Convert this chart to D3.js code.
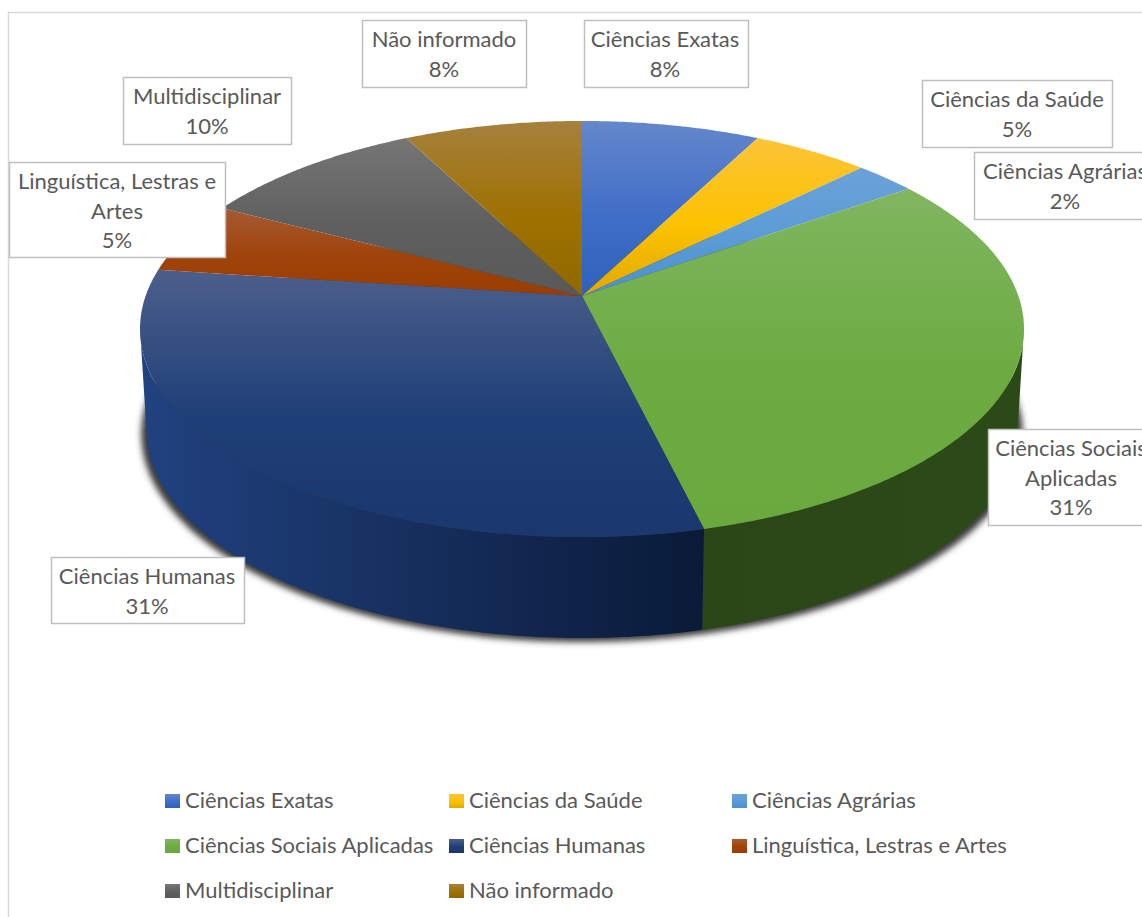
<!DOCTYPE html>
<html>
<head>
<meta charset="utf-8">
<script src="https://cdn.jsdelivr.net/npm/d3@7"></script>
<style>
  body { margin: 0; background: #fff; overflow: hidden; }
  text { font-family: Lato, "Open Sans", sans-serif; fill: #595959; }
</style>
</head>
<body>
<svg id="chart" width="1142" height="917"></svg>
<script>
// data
var categories = ["Ciências Exatas", "Ciências da Saúde", "Ciências Agrárias", "Ciências Sociais Aplicadas",
                  "Ciências Humanas", "Linguística, Lestras e Artes", "Multidisciplinar", "Não informado"];
var shares = [7.6, 5.0, 2.6, 31.0, 30.9, 5.6, 9.7, 7.6];
var percentLabels = ["8%", "5%", "2%", "31%", "31%", "5%", "10%", "8%"];
var labelLines = [["Ciências Exatas"], ["Ciências da Saúde"], ["Ciências Agrárias"], ["Ciências Sociais", "Aplicadas"],
                  ["Ciências Humanas"], ["Linguística, Lestras e", "Artes"], ["Multidisciplinar"], ["Não informado"]];

// colours: light top, middle, bottom of each top face
var lightColors = ["#6587cb", "#fcc438", "#6ba2d8", "#80b660", "#4c5f8b", "#a65a33", "#767676", "#a6813e"];
var midColors   = ["#3f6ec6", "#fcc200", "#5b9bd5", "#6cab41", "#1f3f78", "#a0430a", "#5f5f5f", "#9e7100"];
var darkColors  = ["#2e62bb", "#e0a800", "#4a90d0", "#69a93e", "#1a376e", "#983d03", "#595959", "#916800"];
var sideLeft    = ["#1d3566", "#7a5c00", "#2d4f70", "#2b4617", "#214280", "#4f2203", "#303030", "#4c3700"];
var sideRight   = ["#1d3566", "#7a5c00", "#2d4f70", "#2c4a18", "#0a1a38", "#4f2203", "#303030", "#4c3700"];

// label boxes [x0, y0, x1, y1] and legend layout
var labelBoxes = [[584, 20, 748, 87], [922, 80, 1112, 147], [974, 152, 1170, 219], [988, 429, 1170, 525],
                  [51, 557, 244, 623], [9, 162, 225, 257], [123, 77, 291, 144], [362, 20, 526, 87]];
var labelCenters = [665, 1017, 1065, 1071, 147, 117, 207, 444];
var legendCols = [165, 449, 732];
var legendRows = [794, 839, 884];

var svg = d3.select("#chart");
var defs = svg.append("defs");

defs.append("filter").attr("id", "pieShadow")
    .attr("x", "-5%").attr("y", "-5%").attr("width", "110%").attr("height", "110%")
  .append("feGaussianBlur").attr("stdDeviation", 3);

categories.forEach(function(c, i) {
    var g = defs.append("linearGradient").attr("id", "top" + i)
        .attr("x1", 0).attr("y1", 0).attr("x2", 0).attr("y2", 1);
    g.append("stop").attr("offset", "0%").attr("stop-color", lightColors[i]);
    g.append("stop").attr("offset", "55%").attr("stop-color", midColors[i]);
    g.append("stop").attr("offset", "100%").attr("stop-color", darkColors[i]);

    var s = defs.append("linearGradient").attr("id", "side" + i)
        .attr("x1", 0).attr("y1", 0).attr("x2", 1).attr("y2", 0);
    s.append("stop").attr("offset", "0%").attr("stop-color", sideLeft[i]);
    s.append("stop").attr("offset", "100%").attr("stop-color", sideRight[i]);
});

// chart frame, runs off the right and bottom of the picture
svg.append("rect")
    .attr("x", 8.5).attr("y", 12.5).attr("width", 1200).attr("height", 1000)
    .attr("fill", "#fff").attr("stroke", "#d9d9d9").attr("stroke-width", 1.5);

/* perspective view of the pie: near edge is drawn bigger than the far edge */
var k = 0.1586;
function project(angle, r, level) {
    var u = Math.sin(angle) * r, v = -Math.cos(angle) * r;
    var w = 1 - k * v;
    var A = level ? 430 : 436.4;
    var y0 = level ? 397 : 296;
    return [582 + A * u / w, y0 + 202.8 * v / w];
}

function arcPoints(a0, a1, level) {
    var n = Math.max(2, Math.ceil((a1 - a0) / 0.01));
    return d3.range(n + 1).map(function(j) {
        return project(a0 + (a1 - a0) * j / n, 1, level);
    });
}

var pie = d3.pie().sort(null).value(function(d) { return d; });
var slices = pie(shares);
var line = d3.line();

// only the part of the rim between the left and right silhouette shows
var frontStart = Math.acos(-k);
var frontEnd = 2 * Math.PI - frontStart;

// blurred shadow under the base
svg.append("path")
    .attr("d", line(arcPoints(0, 2 * Math.PI, 1)) + "Z")
    .attr("transform", "translate(582,401) scale(1.012,1) translate(-582,-397)")
    .attr("fill", "#3a3a3a")
    .attr("filter", "url(#pieShadow)");

svg.append("g").selectAll("path")
    .data(slices)
    .enter().append("path")
    .attr("d", function(d) {
        var a0 = Math.max(d.startAngle, frontStart);
        var a1 = Math.min(d.endAngle, frontEnd);
        if (a1 <= a0) return null;
        var top = arcPoints(a0, a1, 0);
        var bottom = arcPoints(a0, a1, 1).reverse();
        return line(top.concat(bottom)) + "Z";
    })
    .attr("fill", function(d, i) { return "url(#side" + i + ")"; });

svg.append("g").selectAll("path")
    .data(slices)
    .enter().append("path")
    .attr("d", function(d) {
        return line([project(0, 0, 0)].concat(arcPoints(d.startAngle, d.endAngle, 0))) + "Z";
    })
    .attr("fill", function(d, i) { return "url(#top" + i + ")"; });

// data labels
var labels = svg.append("g").selectAll("g")
    .data(categories)
    .enter().append("g");

labels.append("rect")
    .attr("x", function(d, i) { return labelBoxes[i][0] + 0.5; })
    .attr("y", function(d, i) { return labelBoxes[i][1] + 0.5; })
    .attr("width", function(d, i) { return labelBoxes[i][2] - labelBoxes[i][0]; })
    .attr("height", function(d, i) { return labelBoxes[i][3] - labelBoxes[i][1]; })
    .attr("fill", "#fff").attr("stroke", "#bfbfbf").attr("stroke-width", 1.5);

labels.each(function(d, i) {
    var lines = labelLines[i].concat([percentLabels[i]]);
    var txt = d3.select(this).append("text")
        .attr("text-anchor", "middle")
        .attr("font-size", 22);
    lines.forEach(function(l, j) {
        txt.append("tspan")
            .attr("x", labelCenters[i])
            .attr("y", labelBoxes[i][1] + 27 + j * 29.5)
            .text(l);
    });
});

// legend, three per row
var legend = svg.append("g").selectAll("g")
    .data(categories)
    .enter().append("g")
    .attr("transform", function(d, i) {
        return "translate(" + legendCols[i % 3] + "," + legendRows[Math.floor(i / 3)] + ")";
    });

legend.append("rect")
    .attr("width", 15).attr("height", 14)
    .attr("fill", function(d, i) { return "url(#top" + i + ")"; });

legend.append("text")
    .attr("x", 20).attr("y", 14)
    .attr("font-size", 22)
    .text(function(d) { return d; });
</script>
</body>
</html>
